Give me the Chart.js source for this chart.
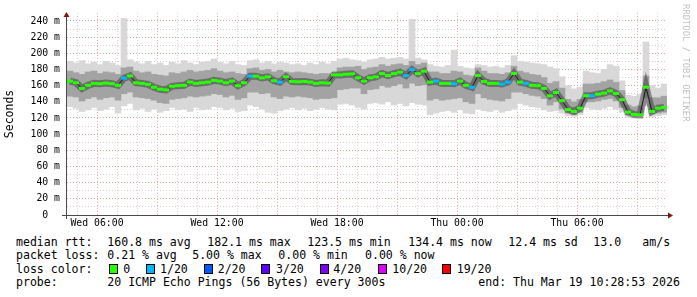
<!DOCTYPE html>
<html>
<head>
<meta charset="utf-8">
<script src="https://cdn.jsdelivr.net/npm/chart.js@4.4.1/dist/chart.umd.min.js"></script>
<style>
  body { margin: 0; background: #fff; }
  #wrap { position: relative; width: 697px; height: 297px; overflow: hidden; font-family: "DejaVu Sans Mono", monospace; background: #fff; }
  #graf { position: absolute; left: 0; top: 0; }
  .t { position: absolute; font-size: 11.55px; line-height: 14px; white-space: pre; color: #000; }
  .box { position: absolute; top: 264px; width: 7px; height: 8px; border: 1px solid #000; }
  #marca { position: absolute; left: 681px; top: 4px; writing-mode: vertical-rl; font-size: 8.9px; color: #c0c0c0; }
</style>
</head>
<body>
<div id="wrap">
  <canvas id="graf" width="697" height="235"></canvas>
  <div id="marca">RRDTOOL / TOBI OETIKER</div>

  <div class="t" style="left:16px;top:234.5px">median rtt:</div>
  <div class="t" style="left:107.3px;top:234.5px">160.8 ms avg</div>
  <div class="t" style="left:207.3px;top:234.5px">182.1 ms max</div>
  <div class="t" style="left:307.3px;top:234.5px">123.5 ms min</div>
  <div class="t" style="left:408.3px;top:234.5px">134.4 ms now</div>
  <div class="t" style="left:508.3px;top:234.5px">12.4 ms sd</div>
  <div class="t" style="left:593.3px;top:234.5px">13.0</div>
  <div class="t" style="left:642.3px;top:234.5px">am/s</div>

  <div class="t" style="left:16px;top:248px">packet loss:</div>
  <div class="t" style="left:107.3px;top:248px">0.21 % avg</div>
  <div class="t" style="left:192.2px;top:248px">5.00 % max</div>
  <div class="t" style="left:278.3px;top:248px">0.00 % min</div>
  <div class="t" style="left:365px;top:248px">0.00 % now</div>

  <div class="t" style="left:16px;top:262px">loss color:</div>
  <div id="legenda_perda"></div>

  <div class="t" style="left:16px;top:275.3px">probe:</div>
  <div class="t" style="left:107.3px;top:275.3px">20 ICMP Echo Pings (56 Bytes) every 300s</div>
  <div class="t" style="left:478.3px;top:275.3px">end: Thu Mar 19 10:28:53 2026</div>
</div>

<script>
// amostras a cada 18 min, a partir de Wed 04:39 (horas desde Wed 00:00)
var inicioHoras = 4.65
var passoHoras = 0.3

// mediana (ms)
var mediana = [
  165.6, 163.6, 156.5, 160.4, 162.8, 162.4, 163.2, 162.4, 160.4, 169.3,
  172.0, 163.6, 162.8, 161.6, 158.0, 155.6, 154.8, 159.2, 160.0, 160.4,
  164.4, 162.8, 163.6, 164.4, 166.5, 165.6, 163.6, 165.6, 160.0, 163.6,
  171.7, 171.7, 169.7, 170.9, 166.1, 164.4, 170.9, 165.2, 164.8, 165.2,
  164.4, 162.8, 163.6, 163.2, 173.3, 173.3, 174.1, 174.5, 169.7, 165.6,
  169.7, 170.9, 174.9, 172.5, 174.9, 176.6, 172.5, 179.8, 174.9, 177.8,
  164.4, 165.6, 162.8, 162.8, 162.4, 165.6, 160.4, 158.0, 172.5, 165.2,
  162.8, 162.8, 162.0, 164.4, 175.0, 164.4, 162.8, 160.4, 160.0, 156.6,
  147.5, 151.5, 141.4, 130.5, 128.1, 132.1, 147.5, 147.5, 149.5, 150.7,
  153.5, 150.3, 142.6, 127.3, 124.4, 124.0, 158.0, 128.1, 132.1, 133.0
]

// fumaça externa (min / max dos 20 pings)
var fumacaMax = [
  190, 188, 191, 187, 189, 186, 190, 188, 185, 243, 192, 189, 187, 190, 186, 188, 185, 189, 187, 191, 188, 186, 189, 190, 193,
  189, 187, 190, 186, 185, 191, 192, 188, 190, 187, 189, 188, 186, 187, 185, 188, 186, 189, 187, 190, 193, 194, 192, 191, 189,
  192, 193, 195, 193, 194, 195, 193, 242, 194, 192, 186, 184, 183, 185, 204, 184, 182, 181, 186, 185, 183, 184, 182, 185, 197,
  190, 189, 188, 187, 186, 183, 181, 171, 160, 156, 158, 178, 176, 175, 180, 186, 184, 166, 148, 147, 149, 214, 160, 157, 162
]
var fumacaMin = [
  134, 132, 128, 130, 133, 129, 131, 134, 126, 135, 138, 130, 132, 128, 131, 127, 129, 133, 130, 131, 128, 133, 130, 131, 134,
  133, 130, 132, 128, 129, 136, 134, 131, 127, 126, 129, 131, 133, 130, 132, 129, 131, 133, 131, 130, 137, 138, 136, 133, 131,
  138, 139, 137, 140, 136, 138, 135, 139, 137, 136, 124, 126, 128, 129, 127, 130, 126, 125, 131, 129, 128, 130, 127, 129, 131,
  138, 136, 134, 133, 130, 128, 129, 126, 123, 122, 124, 133, 131, 130, 132, 134, 131, 127, 121, 120, 120, 135, 122, 123, 124
]

// fumaça interna (faixa central dos pings)
var nucleoMax = [
  178, 176, 174, 177, 178, 175, 177, 176, 174, 182, 183, 178, 176, 177, 174, 173, 172, 176, 175, 177, 179, 177, 178, 179, 181,
  178, 176, 177, 175, 174, 181, 182, 179, 180, 177, 179, 177, 176, 177, 176, 175, 174, 175, 175, 176, 182, 183, 183, 184, 180,
  182, 183, 186, 184, 186, 187, 185, 190, 186, 188, 177, 177, 175, 175, 178, 177, 173, 172, 182, 178, 175, 175, 174, 176, 184,
  178, 176, 174, 173, 170, 163, 165, 157, 143, 140, 143, 162, 162, 163, 165, 167, 164, 154, 136, 134, 135, 172, 145, 145, 147
]
var nucleoMin = [
  147, 146, 141, 144, 146, 143, 145, 146, 142, 150, 152, 146, 145, 144, 142, 139, 138, 143, 144, 145, 147, 146, 147, 148, 150,
  149, 146, 148, 143, 145, 152, 152, 150, 151, 146, 144, 147, 146, 147, 146, 145, 143, 144, 144, 145, 155, 156, 157, 157, 150,
  155, 156, 160, 158, 160, 162, 157, 163, 160, 161, 142, 144, 142, 143, 144, 145, 140, 138, 150, 145, 143, 142, 141, 144, 152,
  152, 150, 148, 147, 144, 136, 140, 131, 126, 124, 127, 140, 140, 141, 143, 144, 141, 133, 124, 123, 123, 145, 125, 126, 127
]

// amostras com perda de 1/20
var perda1de20 = [9, 30, 35, 56, 57, 61, 64, 67, 72, 73, 76, 87]

var corPerda = ['#26ff00', '#00b8ff', '#0059ff', '#5e00ff', '#7e00ff', '#dd00ff', '#ff0000']
var rotuloPerda = ['0', '1/20', '2/20', '3/20', '4/20', '10/20', '19/20']

var horasTicks = [6, 12, 18, 24, 30]
var rotulosX = ['Wed 06:00', 'Wed 12:00', 'Wed 18:00', 'Thu 00:00', 'Thu 06:00']
var valoresY = [0, 20, 40, 60, 80, 100, 120, 140, 160, 180, 200, 220, 240]
var rotulosY = ['0', '20 m', '40 m', '60 m', '80 m', '100 m', '120 m', '140 m', '160 m', '180 m', '200 m', '220 m', '240 m']

// legenda das cores de perda
var posCaixa = [108.5, 146, 203.5, 261, 319.5, 378, 442]
var posTexto = [123.3, 160, 217.7, 276, 333.3, 392.3, 456.7]
var leg = document.getElementById('legenda_perda')
corPerda.forEach(function (c, i) {
    var b = document.createElement('div')
    b.className = 'box'
    b.style.left = posCaixa[i] + 'px'
    b.style.background = c
    leg.appendChild(b)
    var t = document.createElement('div')
    t.className = 't'
    t.style.left = posTexto[i] + 'px'
    t.style.top = '262px'
    t.textContent = rotuloPerda[i]
    leg.appendChild(t)
})

var horas = mediana.map(function (v, i) { return inicioHoras + passoHoras * i })

var pontosMediana = mediana.map(function (v, i) { return {x: horas[i], y: v} })
var barrasExternas = horas.map(function (h, i) { return {x: h, y: [fumacaMin[i], fumacaMax[i]]} })
var barrasInternas = horas.map(function (h, i) { return {x: h, y: [nucleoMin[i], nucleoMax[i]]} })
var coresPontos = mediana.map(function (v, i) { return perda1de20.indexOf(i) >= 0 ? corPerda[1] : corPerda[0] })

var gradeX = []
for (var h = 5; h <= 34; h++) gradeX.push(h)
var gradeY = []
for (var v = 0; v <= 240; v += 10) gradeY.push(v)

// eixos com setas, estilo rrdtool
var setas = {
    id: 'setas',
    afterDraw: function (chart) {
        var ctx = chart.ctx, a = chart.chartArea
        ctx.save()
        ctx.strokeStyle = '#4a4a4a'
        ctx.lineWidth = 1
        ctx.beginPath()
        ctx.moveTo(a.left - 5, a.bottom + 0.5)
        ctx.lineTo(a.right + 2, a.bottom + 0.5)
        ctx.moveTo(a.left - 0.5, a.bottom + 4)
        ctx.lineTo(a.left - 0.5, a.top + 3)
        ctx.stroke()
        ctx.fillStyle = '#8b1010'
        ctx.beginPath()
        ctx.moveTo(a.left - 0.5, a.top - 1)
        ctx.lineTo(a.left - 3.5, a.top + 4)
        ctx.lineTo(a.left + 2.5, a.top + 4)
        ctx.closePath()
        ctx.fill()
        ctx.beginPath()
        ctx.moveTo(a.right + 6, a.bottom + 0.5)
        ctx.lineTo(a.right + 1, a.bottom - 2.5)
        ctx.lineTo(a.right + 1, a.bottom + 3.5)
        ctx.closePath()
        ctx.fill()
        ctx.restore()
    }
}

var fonteEixo = {family: 'DejaVu Sans Mono', size: 9.8}

var ctx = document.getElementById('graf').getContext('2d')
var grafico = new Chart(ctx, {
    type: 'bar',
    data: {
        datasets: [
            {
                type: 'line',
                data: pontosMediana,
                borderColor: '#1a1a1a',
                borderWidth: 1,
                pointStyle: 'line',
                pointRadius: 3,
                pointBorderWidth: 3,
                pointBorderColor: coresPontos,
                pointBackgroundColor: coresPontos,
                order: 1
            },
            {
                type: 'line',
                data: pontosMediana,
                borderColor: 'rgba(55,55,55,0.5)',
                borderWidth: 7,
                pointRadius: 0,
                order: 2
            },
            {
                data: barrasInternas,
                backgroundColor: '#a3a3a3',
                grouped: false,
                barPercentage: 1,
                categoryPercentage: 1,
                order: 3
            },
            {
                data: barrasExternas,
                backgroundColor: '#d8d8d8',
                grouped: false,
                barPercentage: 1,
                categoryPercentage: 1,
                order: 4
            }
        ]
    },
    options: {
        responsive: false,
        animation: false,
        layout: {padding: {top: 8.75, right: 30, left: 0, bottom: 0}},
        plugins: {legend: {display: false}, tooltip: {enabled: false}},
        scales: {
            x: {
                type: 'linear',
                min: 4.5,
                max: 34.5,
                offset: false,
                afterBuildTicks: function (s) { s.ticks = gradeX.map(function (v) { return {value: v} }) },
                afterFit: function (s) { s.height = 20 },
                ticks: {
                    autoSkip: false,
                    maxRotation: 0,
                    padding: 3,
                    color: '#000',
                    font: fonteEixo,
                    callback: function (v) {
                        var k = horasTicks.indexOf(v)
                        return k >= 0 ? rotulosX[k] : ''
                    }
                },
                grid: {
                    offset: false,
                    drawTicks: false,
                    color: function (c) { return c.tick && c.tick.value % 3 === 0 ? '#e4a4a4' : '#d0d0d0' }
                },
                border: {display: false, dash: [1, 2]}
            },
            y: {
                min: 0,
                max: 250,
                afterBuildTicks: function (s) { s.ticks = gradeY.map(function (v) { return {value: v} }) },
                afterFit: function (s) { s.width = 67 },
                ticks: {
                    autoSkip: false,
                    padding: 7,
                    color: '#000',
                    font: fonteEixo,
                    callback: function (v) {
                        var k = valoresY.indexOf(v)
                        if (k < 0) return ''
                        return v === 0 ? rotulosY[k] + '  ' : rotulosY[k]
                    }
                },
                grid: {
                    drawTicks: false,
                    color: function (c) { return c.tick && c.tick.value % 20 === 0 ? '#e4a4a4' : '#d0d0d0' }
                },
                border: {display: false, dash: [1, 2]},
                title: {
                    display: true,
                    text: 'Seconds',
                    color: '#000',
                    font: {family: 'DejaVu Sans Mono', size: 11.5},
                    padding: {top: 3.5, bottom: 0}
                }
            }
        }
    },
    plugins: [setas]
})
</script>
</body>
</html>
